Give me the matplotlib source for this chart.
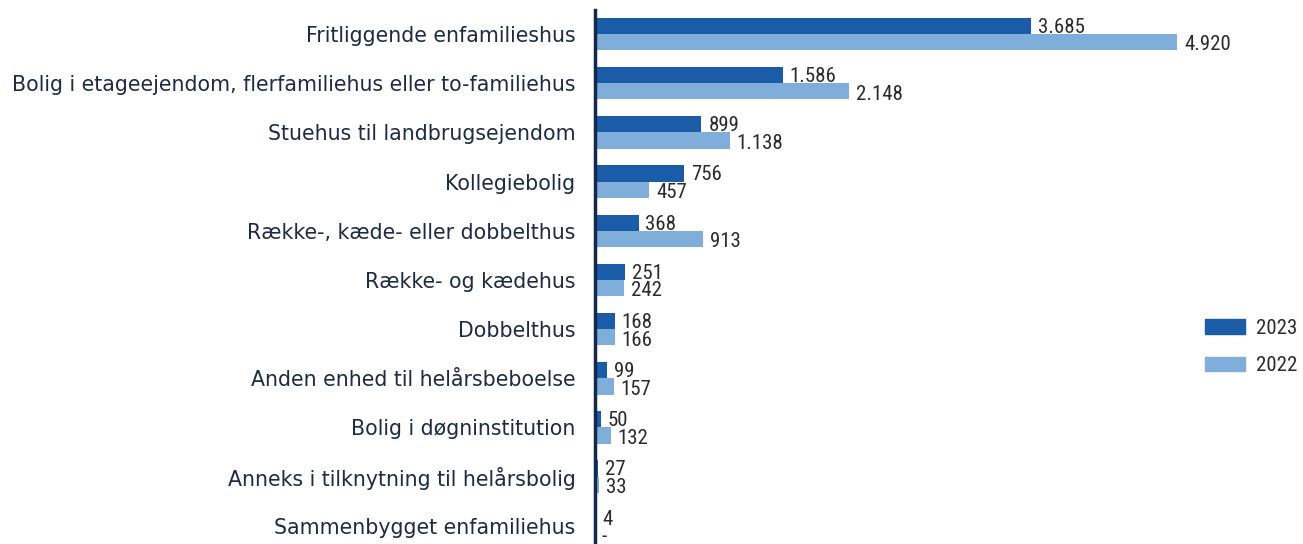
import matplotlib
matplotlib.use("Agg")
import matplotlib.pyplot as plt
import matplotlib.patches as mpatches
from matplotlib import font_manager
import numpy as np

# Data
categories = [
    "Fritliggende enfamilieshus",
    "Bolig i etageejendom, flerfamiliehus eller to-familiehus",
    "Stuehus til landbrugsejendom",
    "Kollegiebolig",
    "Række-, kæde- eller dobbelthus",
    "Række- og kædehus",
    "Dobbelthus",
    "Anden enhed til helårsbeboelse",
    "Bolig i døgninstitution",
    "Anneks i tilknytning til helårsbolig",
    "Sammenbygget enfamiliehus",
]
values_2023 = [3685, 1586, 899, 756, 368, 251, 168, 99, 50, 27, 4]
values_2022 = [4920, 2148, 1138, 457, 913, 242, 166, 157, 132, 33, 0]
series_labels = ["2023", "2022"]

# Style
color_2023 = "#1a5ca8"
color_2022 = "#80aedb"
label_color = "#1e2b45"
value_color = "#2b2b2b"
axis_color = "#14284b"
bar_h = 0.33

# look for a narrow font for the value labels
narrow_path = None
for f in font_manager.fontManager.ttflist:
    n = (f.name + " " + f.fname).lower()
    if ("condensed" in n or "narrow" in n) and "bold" not in n and "italic" not in n and "oblique" not in n:
        narrow_path = f.fname
        if "roboto" in n:
            break

def vfont(size):
    if narrow_path:
        return font_manager.FontProperties(fname=narrow_path, size=size)
    return font_manager.FontProperties(family="DejaVu Sans", size=size * 0.85)

def fmt(v):
    if v == 0:
        return "-"
    return f"{v:,}".replace(",", ".")

fig = plt.figure(figsize=(13.03, 5.44), dpi=100)
ax = fig.add_axes([595 / 1303, 0.0, (1190 - 595) / 1303, 534 / 544])

y = np.arange(len(categories))
ax.barh(y - bar_h / 2, values_2023, height=bar_h, color=color_2023)
ax.barh(y + bar_h / 2, values_2022, height=bar_h, color=color_2022)

for i in range(len(categories)):
    ax.annotate(fmt(values_2023[i]), (values_2023[i], y[i] - bar_h / 2),
                xytext=(5, -1), textcoords="offset points", va="center", ha="left",
                fontproperties=vfont(15), color=value_color)
    ax.annotate(fmt(values_2022[i]), (values_2022[i], y[i] + bar_h / 2),
                xytext=(5, -2), textcoords="offset points", va="center", ha="left",
                fontproperties=vfont(15), color=value_color)

ax.set_xlim(0, 5030)
ax.set_ylim(10.37, -0.49)
ax.set_yticks(y)
ax.set_yticklabels(categories, fontsize=14.8, color=label_color)
ax.tick_params(axis="y", length=0, pad=14)
ax.set_xticks([])
for s in ["top", "right", "bottom"]:
    ax.spines[s].set_visible(False)
ax.spines["left"].set_color(axis_color)
ax.spines["left"].set_linewidth(2.5)

handles = [mpatches.Patch(color=color_2023), mpatches.Patch(color=color_2022)]
leg = fig.legend(handles, series_labels, loc="center left",
                 bbox_to_anchor=(1186 / 1303, 1 - 347 / 544), frameon=False,
                 handlelength=1.95, handleheight=0.7, handletextpad=0.5,
                 labelspacing=0.9, prop=vfont(15))
for t in leg.get_texts():
    t.set_color(value_color)

fig.savefig("out.png", dpi=100)
